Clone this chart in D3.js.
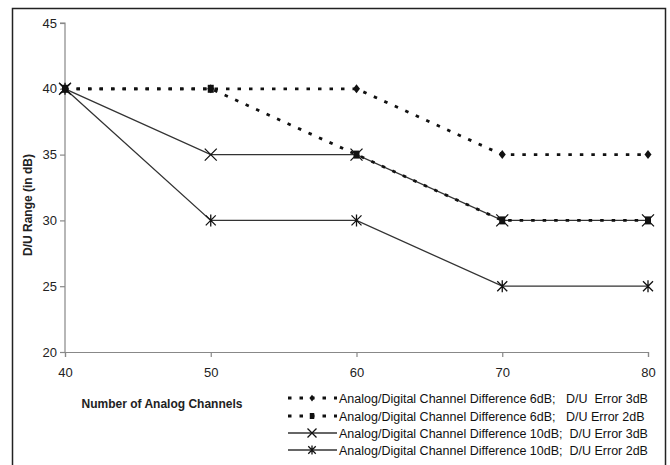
<!DOCTYPE html>
<html><head><meta charset="utf-8">
<script src="https://cdn.jsdelivr.net/npm/d3@7"></script>
<style>
html,body{margin:0;padding:0;background:#fff;}
svg{display:block;font-family:"Liberation Sans",Arial,sans-serif;}
</style></head>
<body><svg id="c" width="670" height="465"></svg>
<script>
const channels = [40, 50, 60, 70, 80];
const s6dB3dB = [40, 40, 40, 35, 35];
const s6dB2dB = [40, 40, 35, 30, 30];
const s10dB3dB = [40, 35, 35, 30, 30];
const s10dB2dB = [40, 30, 30, 25, 25];
const yTicks = [20, 25, 30, 35, 40, 45];
const xTicks = [40, 50, 60, 70, 80];
const seriesNames = [
  "Analog/Digital Channel Difference 6dB;   D/U  Error 3dB",
  "Analog/Digital Channel Difference 6dB;   D/U Error 2dB",
  "Analog/Digital Channel Difference 10dB;  D/U Error 3dB",
  "Analog/Digital Channel Difference 10dB;  D/U Error 2dB"
];
const series = [
  {name: seriesNames[0], values: s6dB3dB, dashed: true, marker: "diamond"},
  {name: seriesNames[1], values: s6dB2dB, dashed: true, marker: "square"},
  {name: seriesNames[2], values: s10dB3dB, dashed: false, marker: "x"},
  {name: seriesNames[3], values: s10dB2dB, dashed: false, marker: "star"}
];

const svg = d3.select("#c");
svg.append("rect").attr("x", 12.5).attr("y", 8.5).attr("width", 653).attr("height", 470)
  .attr("fill", "none").attr("stroke", "#222").attr("stroke-width", 1.5);

const x = d3.scaleLinear().domain([40, 80]).range([65, 648]);
const y = d3.scaleLinear().domain([20, 45]).range([352, 23]);

const axisColor = "#888";
const gy = svg.append("g").attr("transform", `translate(${x(40)},0)`)
  .call(d3.axisLeft(y).tickValues(yTicks).tickSize(5).tickPadding(3));
const gx = svg.append("g").attr("transform", `translate(0,${y(20)})`)
  .call(d3.axisBottom(x).tickValues(xTicks).tickSize(5).tickPadding(11));
[gx, gy].forEach(g => {
  g.select(".domain").attr("stroke", axisColor).attr("stroke-width", 1.2);
  g.selectAll(".tick line").attr("stroke", axisColor).attr("stroke-width", 1.2);
  g.selectAll(".tick text").attr("fill", "#222").attr("font-size", 13)
    .attr("font-family", "'Liberation Sans Narrow','Liberation Sans',Arial,sans-serif");
});
gy.select(".domain").attr("d", `M-5,${y(45)}H0V${y(20)}`);

svg.append("text").attr("transform", `translate(32,205) rotate(-90)`)
  .attr("text-anchor", "middle").attr("font-weight", "bold").attr("font-size", 12)
  .attr("fill", "#222").text("D/U Range (in dB)");
svg.append("text").attr("x", 162).attr("y", 408).attr("text-anchor", "middle")
  .attr("font-weight", "bold").attr("font-size", 12).attr("fill", "#222")
  .text("Number of Analog Channels");

const line = d3.line().x((d, i) => x(channels[i])).y(d => y(d));

function drawMarker(g, type, cx, cy, s) {
  const col = "#111";
  if (type === "diamond") {
    g.append("path").attr("d", `M${cx},${cy-4.5*s}L${cx+3.5*s},${cy}L${cx},${cy+4.5*s}L${cx-3.5*s},${cy}Z`).attr("fill", col);
  } else if (type === "square") {
    g.append("rect").attr("x", cx-3*s).attr("y", cy-4*s).attr("width", 6*s).attr("height", 8*s).attr("fill", col);
  } else if (type === "x") {
    const r = 6*s;
    g.append("path").attr("d", `M${cx-r},${cy-r}L${cx+r},${cy+r}M${cx-r},${cy+r}L${cx+r},${cy-r}`)
      .attr("stroke", col).attr("stroke-width", 1.3).attr("fill", "none");
  } else {
    const r = 5*s, v = 6*s;
    g.append("path").attr("d", `M${cx-r},${cy-r}L${cx+r},${cy+r}M${cx-r},${cy+r}L${cx+r},${cy-r}M${cx},${cy-v}V${cy+v}`)
      .attr("stroke", col).attr("stroke-width", 1.3).attr("fill", "none");
  }
}

// draw solid first, then dashed
const order = [2, 3, 1, 0];
order.forEach(k => {
  const s = series[k];
  const g = svg.append("g");
  g.append("path").attr("d", line(s.values)).attr("fill", "none")
    .attr("stroke", s.dashed ? "#111" : "#333")
    .attr("stroke-width", s.dashed ? 2.8 : 1.3)
    .attr("stroke-dasharray", s.dashed ? "3.5,8" : null);
  s.values.forEach((v, i) => drawMarker(g, s.marker, x(channels[i]), y(v), 1));
});

// legend
const legY = [398, 416, 433, 450];
series.forEach((s, k) => {
  const g = svg.append("g");
  const ly = legY[k];
  g.append("line").attr("x1", 288).attr("x2", 337).attr("y1", ly).attr("y2", ly)
    .attr("stroke", s.dashed ? "#111" : "#333")
    .attr("stroke-width", s.dashed ? 2.8 : 1.3)
    .attr("stroke-dasharray", s.dashed ? "3.5,8" : null);
  drawMarker(g, s.marker, 312, ly, 0.75);
  g.append("text").attr("x", 339).attr("y", ly + 4.5).attr("font-size", 12.5)
    .attr("font-family", "'Liberation Sans Narrow','Liberation Sans',Arial,sans-serif")
    .attr("fill", "#111").style("white-space", "pre").text(s.name);
});
</script></body></html>
